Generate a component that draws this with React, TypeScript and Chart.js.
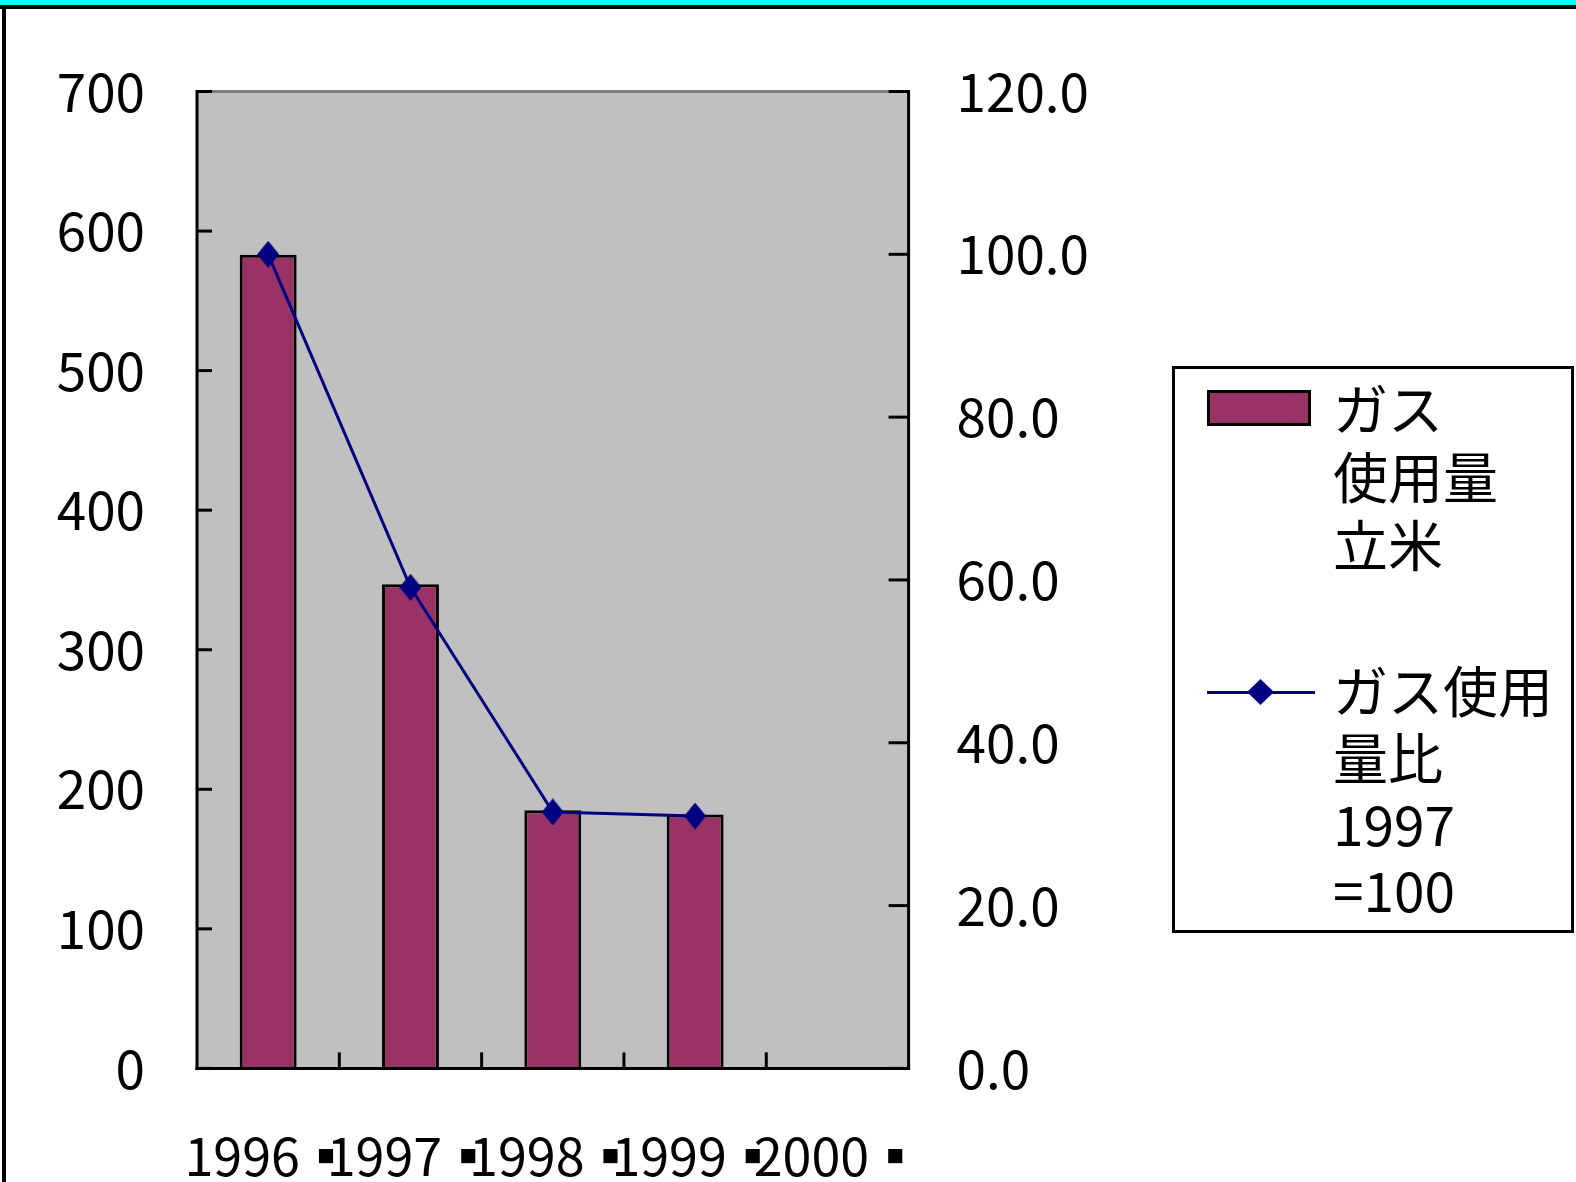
import React, { useEffect, useRef } from "react";
import { Chart, registerables } from "chart.js";

Chart.register(...registerables);

const categories = ["1996▪", "1997▪", "1998▪", "1999▪", "2000▪"];
const gasVolume: (number | null)[] = [583, 347, 185, 182, null];
const gasRatio: (number | null)[] = [100, 59.1, 31.5, 31.0, null];
const leftTickValues = [0, 100, 200, 300, 400, 500, 600, 700];
const rightTickValues = [0, 20, 40, 60, 80, 100, 120];
const legendBarLines = ["ガス", "使用量", "立米"];
const legendLineLines = ["ガス使用", "量比", "1997", "=100"];

const BAR_COLOR = "#993366";
const LINE_COLOR = "#000080";
const FONT = "'Noto Sans CJK JP', 'Noto Sans', sans-serif";

function makeDiamond(w: number, h: number, color: string) {
  const c = document.createElement("canvas");
  c.width = w;
  c.height = h;
  const g = c.getContext("2d")!;
  g.fillStyle = color;
  g.beginPath();
  g.moveTo(w / 2, 0);
  g.lineTo(w, h / 2);
  g.lineTo(w / 2, h);
  g.lineTo(0, h / 2);
  g.closePath();
  g.fill();
  return c;
}

const framePlugin = {
  id: "frame",
  beforeDatasetsDraw(chart: any) {
    const { ctx, chartArea } = chart;
    const { left, right, top, bottom } = chartArea;
    ctx.save();
    ctx.fillStyle = "#C0C0C0";
    ctx.fillRect(left, top, right - left, bottom - top);
    ctx.restore();
  },
  afterDatasetsDraw(chart: any) {
    const { ctx, chartArea, scales } = chart;
    const { left, right, top, bottom } = chartArea;
    const ln = (x1: number, y1: number, x2: number, y2: number) => {
      ctx.beginPath();
      ctx.moveTo(x1, y1);
      ctx.lineTo(x2, y2);
      ctx.stroke();
    };
    ctx.save();
    ctx.lineWidth = 3;
    ctx.lineCap = "butt";
    ctx.strokeStyle = "#808080";
    ln(left, top, right, top);
    ctx.strokeStyle = "#000000";
    ln(left, top - 1.5, left, bottom + 1.5);
    ln(right, top - 1.5, right, bottom + 1.5);
    ln(left - 1.5, bottom, right + 1.5, bottom);
    leftTickValues.forEach((v) => {
      const y = scales.y.getPixelForValue(v);
      ln(left, y, left + 15, y);
    });
    rightTickValues.forEach((v) => {
      const y = scales.y1.getPixelForValue(v);
      ln(right - 20, y, right, y);
    });
    for (let i = 1; i < categories.length; i++) {
      const x = (scales.x.getPixelForValue(i - 1) + scales.x.getPixelForValue(i)) / 2;
      ln(x, bottom, x, bottom - 16);
    }
    ctx.restore();
  },
};

export default function App() {
  const canvasRef = useRef<HTMLCanvasElement | null>(null);

  useEffect(() => {
    const canvas = canvasRef.current;
    if (!canvas) return;
    const diamond = makeDiamond(22, 27, LINE_COLOR);
    const chart = new Chart(canvas, {
      type: "bar",
      data: {
        labels: categories,
        datasets: [
          {
            type: "bar",
            label: "ガス使用量立米",
            data: gasVolume,
            backgroundColor: BAR_COLOR,
            borderColor: "#000000",
            borderWidth: 3,
            barPercentage: 0.4,
            categoryPercentage: 1,
            yAxisID: "y",
            order: 2,
          } as any,
          {
            type: "line",
            label: "ガス使用量比1997=100",
            data: gasRatio,
            borderColor: LINE_COLOR,
            borderWidth: 3,
            backgroundColor: LINE_COLOR,
            pointStyle: diamond as any,
            pointRadius: 12,
            tension: 0,
            spanGaps: false,
            yAxisID: "y1",
            order: 1,
          } as any,
        ],
      },
      options: {
        responsive: false,
        animation: false,
        events: [],
        layout: { padding: { top: 91.5, left: 0, right: 0, bottom: 0 } },
        plugins: {
          legend: { display: false },
          title: { display: false },
          tooltip: { enabled: false },
        },
        scales: {
          x: {
            type: "category",
            offset: true,
            grid: { display: false, drawTicks: false },
            border: { display: false },
            ticks: {
              autoSkip: false,
              maxRotation: 0,
              minRotation: 0,
              padding: 57,
              color: "#000000",
              font: { family: FONT, size: 52 },
            },
            afterFit: (s: any) => {
              s.height = 113.6;
            },
          },
          y: {
            type: "linear",
            position: "left",
            min: 0,
            max: 700,
            grid: { display: false, drawTicks: false },
            border: { display: false },
            ticks: {
              stepSize: 100,
              padding: 52,
              color: "#000000",
              font: { family: FONT, size: 53 },
            },
            afterFit: (s: any) => {
              s.width = 197;
            },
          },
          y1: {
            type: "linear",
            position: "right",
            min: 0,
            max: 120,
            grid: { display: false, drawTicks: false },
            border: { display: false },
            ticks: {
              stepSize: 20,
              padding: 48,
              color: "#000000",
              font: { family: FONT, size: 53 },
              callback: (v: any) => Number(v).toFixed(1),
            },
            afterFit: (s: any) => {
              s.width = 1576 - 908.6;
            },
          },
        },
      },
      plugins: [framePlugin],
    });
    return () => chart.destroy();
  }, []);

  const textLine = (txt: string, cy: number, key: string) => (
    <div
      key={key}
      style={{
        position: "absolute",
        left: 1333,
        top: cy - 34,
        height: 68,
        lineHeight: "68px",
        fontSize: 55,
        fontFamily: FONT,
        color: "#000",
        whiteSpace: "nowrap",
      }}
    >
      {txt}
    </div>
  );

  const barCenters = [406, 474, 542];
  const lineCenters = [688, 755, 822, 888];

  return (
    <div
      style={{
        position: "fixed",
        left: 0,
        top: 0,
        width: 1576,
        height: 1182,
        background: "#ffffff",
        overflow: "hidden",
      }}
    >
      <canvas
        ref={canvasRef}
        width={1576}
        height={1182}
        style={{ position: "absolute", left: 0, top: 0, width: 1576, height: 1182 }}
      />
      <div style={{ position: "absolute", left: 0, top: 0, width: 1576, height: 5, background: "#00FFFF" }} />
      <div style={{ position: "absolute", left: 0, top: 5, width: 1576, height: 4, background: "#000" }} />
      <div style={{ position: "absolute", left: 2, top: 5, width: 4, height: 1177, background: "#000" }} />
      <div
        style={{
          position: "absolute",
          left: 1172,
          top: 366,
          width: 402,
          height: 567,
          border: "3px solid #000",
          boxSizing: "border-box",
          background: "#fff",
        }}
      />
      <div
        style={{
          position: "absolute",
          left: 1207,
          top: 390,
          width: 104,
          height: 36,
          background: BAR_COLOR,
          border: "3px solid #000",
          boxSizing: "border-box",
        }}
      />
      {legendBarLines.map((t, i) => textLine(t, barCenters[i], "b" + i))}
      <div style={{ position: "absolute", left: 1207, top: 690.5, width: 108, height: 3, background: LINE_COLOR }} />
      <svg style={{ position: "absolute", left: 1247, top: 679 }} width={27} height={26}>
        <polygon points="13.5,0 27,13 13.5,26 0,13" fill={LINE_COLOR} />
      </svg>
      {legendLineLines.map((t, i) => textLine(t, lineCenters[i], "l" + i))}
    </div>
  );
}
